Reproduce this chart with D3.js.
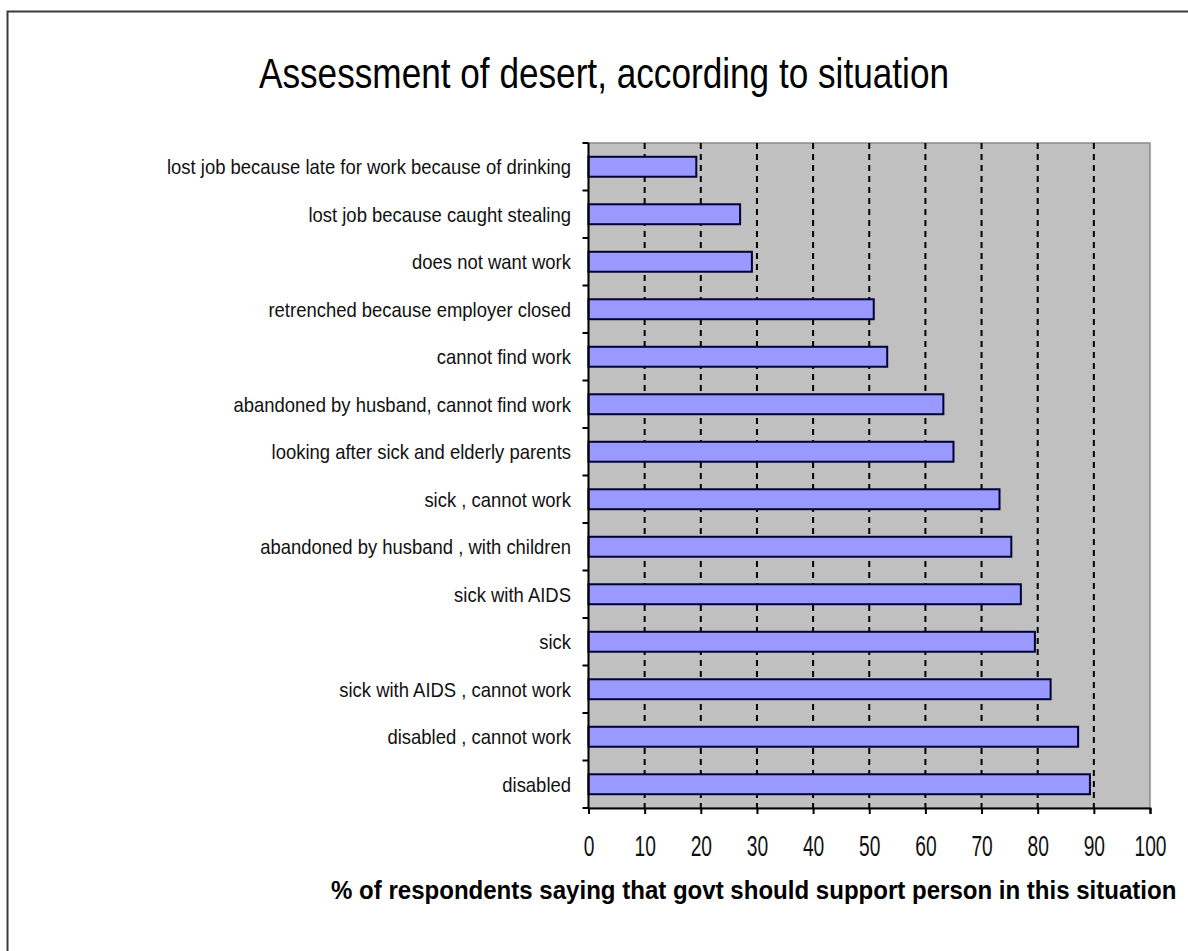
<!DOCTYPE html>
<html>
<head>
<meta charset="utf-8">
<script src="https://cdn.jsdelivr.net/npm/d3@7"></script>
<style>
  html, body { margin: 0; padding: 0; background: #fff; }
  svg { display: block; }
</style>
</head>
<body>
<svg id="chart" width="1188" height="951"></svg>
<script>
// Situations, top to bottom
const situations = [
  "lost job because late for work because of drinking",
  "lost job because caught stealing",
  "does not want work",
  "retrenched because employer closed",
  "cannot find work",
  "abandoned by husband, cannot find work",
  "looking after sick and elderly parents",
  "sick , cannot work",
  "abandoned by husband , with children",
  "sick with AIDS",
  "sick",
  "sick with AIDS , cannot work",
  "disabled , cannot work",
  "disabled"
];

// % of respondents saying that govt should support the person
const supportPct = [19.2, 27.0, 29.1, 50.8, 53.2, 63.2, 65.0, 73.2, 75.3, 77.0, 79.5, 82.3, 87.2, 89.3];

const xTicks = [0, 10, 20, 30, 40, 50, 60, 70, 80, 90, 100];

const titleText = "Assessment of desert, according to situation";
const xAxisTitle = "% of respondents saying that govt should support person in this situation";

const svg = d3.select("#chart");

// outer chart frame
svg.append("rect")
  .attr("x", 7.5).attr("y", 11.5)
  .attr("width", 1200).attr("height", 960)
  .attr("fill", "#fff")
  .attr("stroke", "#3a3a3a")
  .attr("stroke-width", 2);

const plot = { left: 588.5, right: 1150, top: 143, bottom: 808 };

const x = d3.scaleLinear().domain([0, 100]).range([plot.left, plot.right]);
const y = d3.scaleBand()
  .domain(situations)
  .range([plot.top, plot.bottom])
  .paddingInner(0.58)
  .paddingOuter(0.29);

// plot area background
svg.append("rect")
  .attr("x", plot.left).attr("y", plot.top)
  .attr("width", plot.right - plot.left)
  .attr("height", plot.bottom - plot.top)
  .attr("fill", "#c0c0c0")
  .attr("stroke", "#8a8a8a")
  .attr("stroke-width", 1.5);

// dashed vertical gridlines
svg.append("g")
  .selectAll("line")
  .data(xTicks.filter(d => d > 0 && d < 100))
  .join("line")
  .attr("x1", d => x(d)).attr("x2", d => x(d))
  .attr("y1", plot.top).attr("y2", plot.bottom)
  .attr("stroke", "#000")
  .attr("stroke-width", 2)
  .attr("stroke-dasharray", "6,5");

// bars
svg.append("g")
  .selectAll("rect")
  .data(situations)
  .join("rect")
  .attr("x", x(0))
  .attr("y", d => y(d))
  .attr("width", (d, i) => x(supportPct[i]) - x(0))
  .attr("height", y.bandwidth())
  .attr("fill", "#9999ff")
  .attr("stroke", "#000033")
  .attr("stroke-width", 2);

// category axis: ticks at band boundaries
const boundaries = situations.map(d => y(d) - y.step() * y.paddingInner() / 2).concat([plot.bottom]);
const leftAxis = svg.append("g");
leftAxis.append("line")
  .attr("x1", plot.left).attr("x2", plot.left)
  .attr("y1", plot.top).attr("y2", plot.bottom)
  .attr("stroke", "#000").attr("stroke-width", 2);
leftAxis.selectAll("line.tk")
  .data(boundaries)
  .join("line")
  .attr("class", "tk")
  .attr("x1", plot.left - 6).attr("x2", plot.left)
  .attr("y1", d => d).attr("y2", d => d)
  .attr("stroke", "#000").attr("stroke-width", 2);

// category labels (narrow face)
svg.append("g")
  .selectAll("text")
  .data(situations)
  .join("text")
  .attr("transform", d => `translate(571, ${y(d) + y.bandwidth() / 2}) scale(0.9,1)`)
  .attr("text-anchor", "end")
  .attr("dominant-baseline", "central")
  .attr("font-family", "Liberation Sans, Arial, sans-serif")
  .attr("font-size", 20.5)
  .attr("fill", "#111")
  .text(d => d);

// value axis
const xAxis = d3.axisBottom(x).tickValues(xTicks).tickSize(6).tickPadding(21).tickFormat(d3.format("d"));
const gx = svg.append("g")
  .attr("transform", `translate(0, ${plot.bottom})`)
  .call(xAxis);
gx.select(".domain").attr("stroke", "#000").attr("stroke-width", 2);
gx.selectAll(".tick line").attr("stroke", "#000").attr("stroke-width", 2);
gx.selectAll(".tick text")
  .attr("font-family", "Liberation Sans, Arial, sans-serif")
  .attr("font-size", 30)
  .attr("fill", "#111")
  .attr("transform", "scale(0.64,1)");

// chart title
svg.append("text")
  .attr("x", 259).attr("y", 88)
  .attr("font-family", "Liberation Sans, Arial, sans-serif")
  .attr("font-size", 43)
  .attr("fill", "#000")
  .attr("textLength", 690)
  .attr("lengthAdjust", "spacingAndGlyphs")
  .text(titleText);

// value axis title, squeezed horizontally to a fixed span
const axisTitle = svg.append("text")
  .attr("font-family", "Liberation Sans, Arial, sans-serif")
  .attr("font-weight", "bold")
  .attr("font-size", 25)
  .attr("fill", "#000")
  .text(xAxisTitle);
const naturalWidth = axisTitle.node().getComputedTextLength();
const axisTitleSpan = 846;
axisTitle.attr("transform", `translate(331, 899) scale(${axisTitleSpan / naturalWidth}, 1)`);
</script>
</body>
</html>
